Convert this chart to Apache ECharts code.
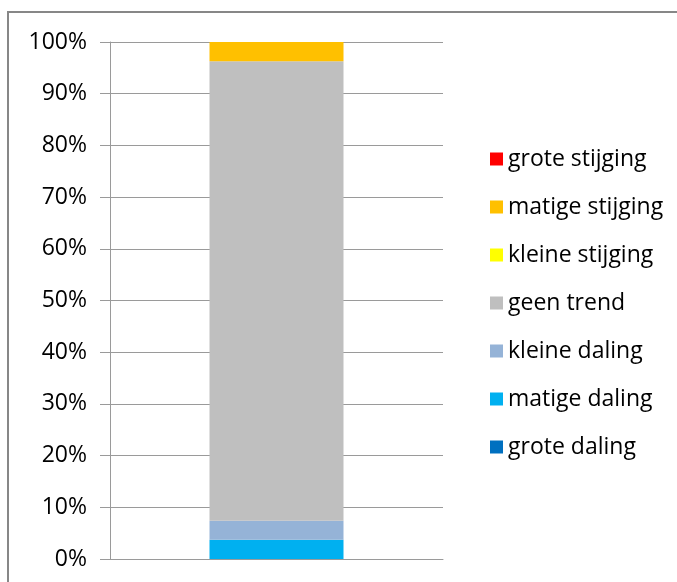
<!DOCTYPE html>
<html>
<head>
<meta charset="utf-8">
<script src="https://cdn.jsdelivr.net/npm/echarts@6/dist/echarts.min.js"></script>
<style>
  html, body { margin: 0; padding: 0; background: #fff; }
  #chart { width: 677px; height: 582px; }
</style>
</head>
<body>
<div id="chart"></div>
<script>
// categories (one stacked column)
const categories = [''];
// series from bottom to top of the stack
const seriesNames = ['grote daling', 'matige daling', 'kleine daling', 'geen trend', 'kleine stijging', 'matige stijging', 'grote stijging'];
const seriesValues = [0, 3.7, 3.7, 88.9, 0, 3.7, 0];
const seriesColors = ['#0070C0', '#00B0F0', '#95B3D7', '#BFBFBF', '#FFFF00', '#FFC000', '#FF0000'];
// legend is listed top-down
const legendOrder = ['grote stijging', 'matige stijging', 'kleine stijging', 'geen trend', 'kleine daling', 'matige daling', 'grote daling'];

const chart = echarts.init(document.getElementById('chart'));

const labelFont = 'Open Sans';
const gridColor = '#9a9a9a';

chart.setOption({
  backgroundColor: '#fff',
  animation: false,
  textStyle: { fontFamily: labelFont },
  // outer chart-area frame (cropped on right and bottom)
  graphic: [{
    type: 'rect',
    shape: { x: 8, y: 12, width: 700, height: 600 },
    style: { fill: 'none', stroke: '#878787', lineWidth: 2 },
    silent: true
  }],
  grid: { left: 110, right: 234, top: 42, bottom: 23 },
  legend: {
    orient: 'vertical',
    left: 485,
    top: 142,
    itemWidth: 13,
    itemHeight: 13,
    itemGap: 24,
    icon: 'rect',
    data: legendOrder,
    textStyle: { fontFamily: labelFont, fontSize: 23, color: '#000', lineHeight: 24, padding: [0, 0, 0, 0] }
  },
  xAxis: {
    type: 'category',
    data: categories,
    axisLine: { lineStyle: { color: gridColor, width: 1 } },
    axisTick: { show: false },
    axisLabel: { show: false }
  },
  yAxis: {
    type: 'value',
    min: 0,
    max: 100,
    interval: 10,
    axisLine: { show: true, lineStyle: { color: gridColor, width: 1 } },
    axisTick: { show: true, length: 10, lineStyle: { color: gridColor } },
    axisLabel: { formatter: '{value}%', color: '#000', fontSize: 23, fontFamily: labelFont, margin: 23 },
    splitLine: { lineStyle: { color: gridColor, width: 1 } }
  },
  series: seriesNames.map((name, i) => ({
    name,
    type: 'bar',
    stack: 'total',
    barWidth: 134,
    data: [seriesValues[i]],
    itemStyle: { color: seriesColors[i] }
  }))
});
</script>
</body>
</html>
